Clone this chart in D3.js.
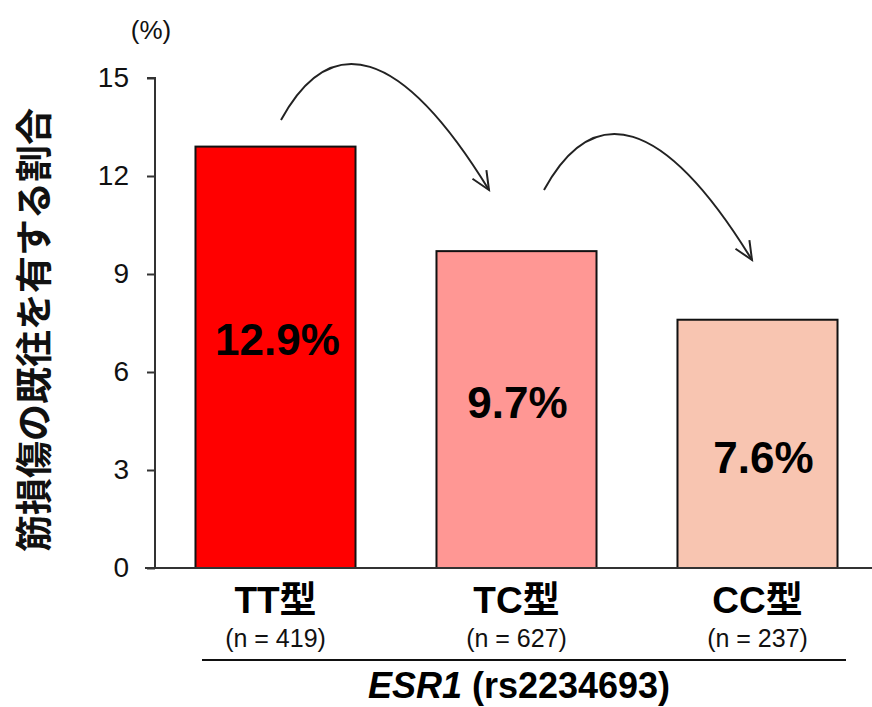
<!DOCTYPE html>
<html>
<head>
<meta charset="utf-8">
<script src="https://cdn.jsdelivr.net/npm/d3@7"></script>
<style>
  html, body { margin: 0; padding: 0; background: #fff; }
  svg { display: block; }
</style>
</head>
<body>
<svg id="chart" width="872" height="707"></svg>
<script>
// Genotype categories, sample sizes and share with a history of muscle injury (%)
const genotypes = ["TT型", "TC型", "CC型"];
const sampleSizes = [419, 627, 237];
const injuryRates = [12.9, 9.7, 7.6];
const barColors = ["#ff0000", "#ff9794", "#f8c5b1"];
const yTicks = [0, 3, 6, 9, 12, 15];

const svg = d3.select("#chart");
const latin = "'Liberation Sans', Arial, Helvetica, sans-serif";
const cjk = "'Liberation Sans', 'Noto Sans CJK JP', sans-serif";

const x = d3.scaleBand()
  .domain(genotypes)
  .range([155, 878])
  .paddingInner(0.336)
  .paddingOuter(0.168);

const y = d3.scaleLinear().domain([0, 15]).range([568, 78]);

// Bars
svg.append("g").selectAll("rect")
  .data(genotypes)
  .join("rect")
  .attr("x", d => x(d))
  .attr("y", (d, i) => y(injuryRates[i]))
  .attr("width", x.bandwidth())
  .attr("height", (d, i) => y(0) - y(injuryRates[i]))
  .attr("fill", (d, i) => barColors[i])
  .attr("stroke", "#111")
  .attr("stroke-width", 2);

// Y axis
const yAxis = svg.append("g")
  .attr("transform", "translate(155,0)")
  .call(d3.axisLeft(y).tickValues(yTicks).tickSize(8).tickPadding(18));
yAxis.select(".domain").attr("stroke", "#333").attr("stroke-width", 2)
  .attr("d", `M-8,${y(15)}H0V${y(0)}`);
yAxis.selectAll(".tick line").attr("stroke", "#333").attr("stroke-width", 2);
yAxis.selectAll(".tick text")
  .attr("font-family", latin)
  .attr("font-size", 28)
  .attr("fill", "#111");

// Baseline
svg.append("line")
  .attr("x1", 145).attr("x2", 872)
  .attr("y1", y(0)).attr("y2", y(0))
  .attr("stroke", "#333").attr("stroke-width", 2);

// Unit label
svg.append("text")
  .attr("x", 151).attr("y", 39)
  .attr("text-anchor", "middle")
  .attr("font-family", latin)
  .attr("font-size", 26)
  .attr("fill", "#111")
  .text("(%)");

// Y axis title
svg.append("text")
  .attr("transform", "translate(48,330) rotate(-90)")
  .attr("text-anchor", "middle")
  .attr("font-family", "'Noto Sans CJK JP', sans-serif")
  .attr("font-weight", "bold")
  .attr("font-size", 37)
  .attr("fill", "#111")
  .text("筋損傷の既往を有する割合");

// Value labels inside the bars (baseline positions in px)
const labelBaselines = [355, 418, 473];
svg.append("g").selectAll("text")
  .data(genotypes)
  .join("text")
  .attr("x", (d, i) => x(d) + x.bandwidth() / 2 + [2, 1, 6][i])
  .attr("y", (d, i) => labelBaselines[i])
  .attr("text-anchor", "middle")
  .attr("font-family", latin)
  .attr("font-weight", "bold")
  .attr("font-size", 44)
  .attr("fill", "#000")
  .text((d, i) => injuryRates[i].toFixed(1) + "%");

// Category labels and sample sizes
const cats = svg.append("g").selectAll("g")
  .data(genotypes)
  .join("g")
  .attr("transform", d => `translate(${x(d) + x.bandwidth() / 2},0)`);
cats.append("text")
  .attr("y", 613)
  .attr("text-anchor", "middle")
  .attr("font-family", cjk)
  .attr("font-weight", "bold")
  .attr("font-size", 37)
  .attr("fill", "#000")
  .text(d => d);
cats.append("text")
  .attr("y", 647)
  .attr("text-anchor", "middle")
  .attr("font-family", latin)
  .attr("font-size", 25)
  .attr("fill", "#111")
  .text((d, i) => `(n = ${sampleSizes[i]})`);

// Grouping rule and gene label
svg.append("line")
  .attr("x1", 202).attr("x2", 846)
  .attr("y1", 660).attr("y2", 660)
  .attr("stroke", "#111").attr("stroke-width", 2);
const gene = svg.append("text")
  .attr("x", 519).attr("y", 698)
  .attr("text-anchor", "middle")
  .attr("font-family", latin)
  .attr("font-weight", "bold")
  .attr("font-size", 36)
  .attr("fill", "#000");
gene.append("tspan").attr("font-style", "italic").text("ESR1");
gene.append("tspan").text(" (rs2234693)");

// Curved arrows showing the decrease between neighbouring genotypes
const arrowStarts = [[281, 120], [544, 190]];
const arrowShape = "M0,0 C49,-90 119,-75 208,70";
const arrows = svg.append("g").selectAll("g")
  .data(arrowStarts)
  .join("g")
  .attr("transform", d => `translate(${d[0]},${d[1]})`);
arrows.append("path")
  .attr("d", arrowShape)
  .attr("fill", "none")
  .attr("stroke", "#222")
  .attr("stroke-width", 2);
// open arrowhead aligned with the curve's end tangent
const ang = Math.atan2(145, 89);
const head = 20, spread = 0.42;
const p1 = [208 - head * Math.cos(ang - spread), 70 - head * Math.sin(ang - spread)];
const p2 = [208 - head * Math.cos(ang + spread), 70 - head * Math.sin(ang + spread)];
arrows.append("path")
  .attr("d", `M${p1[0]},${p1[1]} L208,70 L${p2[0]},${p2[1]}`)
  .attr("fill", "none")
  .attr("stroke", "#222")
  .attr("stroke-width", 2);
</script>
</body>
</html>
